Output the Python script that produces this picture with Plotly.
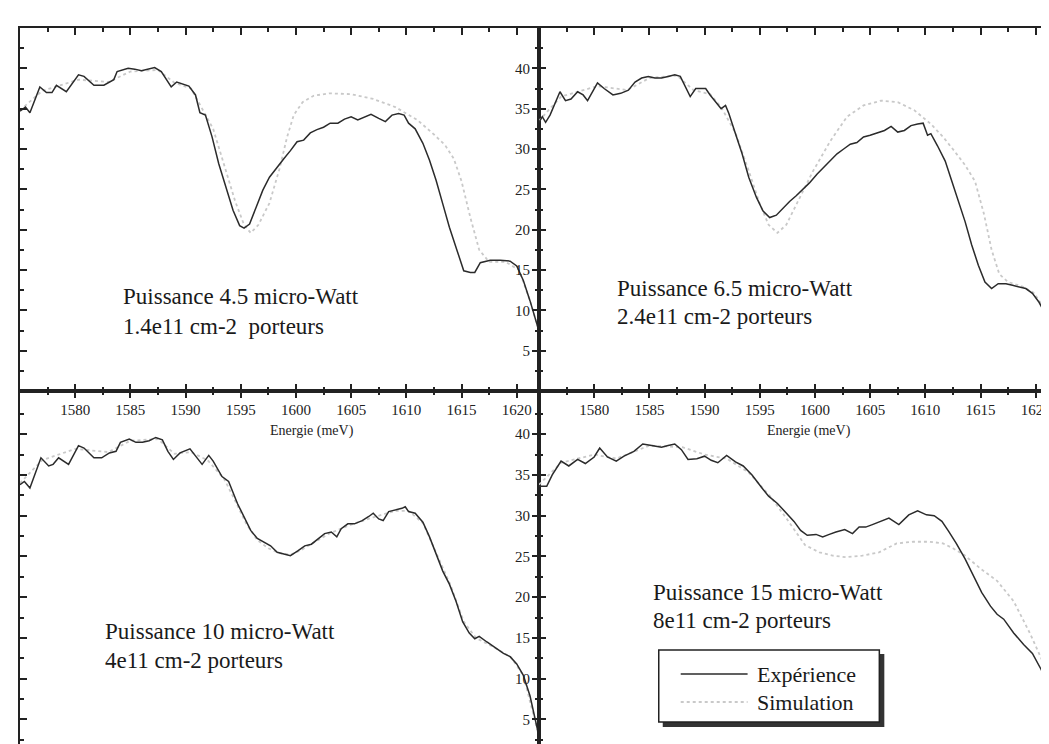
import plotly.graph_objects as go

W, H = 1049, 744

# ---------------- data (Energie in meV, intensity in a.u.) ----------------
tl_exp_x = [1575.0, 1575.5, 1575.9, 1576.8, 1577.4, 1577.9, 1578.3, 1579.2, 1580.3, 1580.8, 1581.7, 1582.6,
            1583.5, 1583.8, 1584.8, 1585.4, 1586.0, 1586.6, 1587.2, 1587.8, 1588.7, 1589.2, 1590.3, 1590.9,
            1591.3, 1591.8, 1592.4, 1593.0, 1593.7, 1594.3, 1594.9, 1595.3, 1595.8, 1596.4, 1597.0, 1597.6,
            1598.3, 1598.9, 1599.5, 1600.1, 1600.7, 1601.3, 1601.9, 1602.5, 1603.1, 1603.8, 1604.4, 1605.0,
            1605.6, 1606.2, 1606.8, 1607.5, 1608.1, 1608.7, 1609.3, 1609.8, 1610.2, 1610.8, 1611.5, 1612.1,
            1612.7, 1613.3, 1613.9, 1614.6, 1615.2, 1615.8, 1616.2, 1616.7, 1617.6, 1618.5, 1619.4, 1620.0,
            1620.6, 1621.2, 1622.0]
tl_exp_y = [34.7, 35.2, 34.5, 37.7, 37.0, 37.0, 37.9, 37.1, 39.2, 39.0, 37.9, 37.9,
            38.6, 39.6, 40.0, 39.9, 39.7, 39.9, 40.1, 39.6, 37.7, 38.3, 37.8, 36.7,
            34.5, 34.2, 31.5, 28.2, 25.1, 22.4, 20.5, 20.2, 20.7, 22.8, 24.9, 26.5,
            27.8, 28.8, 29.8, 30.9, 31.1, 32.0, 32.4, 32.7, 33.2, 33.2, 33.7, 34.0,
            33.6, 34.0, 34.3, 33.8, 33.4, 34.2, 34.4, 34.2, 33.2, 32.5, 30.7, 28.6,
            26.1, 23.2, 20.3, 17.4, 14.9, 14.7, 14.7, 15.9, 16.2, 16.2, 16.1, 15.5,
            13.7, 11.2, 7.5]
tl_sim_x = [1575.0, 1577.0, 1580.3, 1583.0, 1585.0, 1587.5, 1589.0, 1590.5, 1591.5, 1592.5, 1593.5, 1594.5,
            1595.3, 1595.9, 1596.6, 1597.6, 1598.5, 1599.2, 1599.8, 1600.6, 1601.6, 1603.0, 1605.0, 1607.0,
            1609.0, 1611.0, 1612.5, 1613.5, 1614.3, 1615.0, 1615.8, 1616.6, 1617.5, 1619.0, 1620.2, 1621.2,
            1622.0]
tl_sim_y = [34.8, 37.2, 38.6, 38.3, 39.6, 39.8, 38.2, 37.5, 35.0, 32.5, 28.0, 23.5,
            20.6, 19.6, 20.6, 23.3, 27.5, 31.5, 34.2, 35.8, 36.6, 36.9, 36.8, 36.2,
            35.2, 33.6, 31.8, 30.5, 28.8, 26.0, 21.5, 17.5, 16.0, 16.0, 15.0, 11.2,
            7.5]

tr_exp_x = [1575.0, 1575.3, 1575.6, 1576.0, 1576.9, 1577.4, 1577.9, 1578.5, 1579.0, 1579.4, 1580.3, 1580.9,
            1581.7, 1582.4, 1583.1, 1583.7, 1584.3, 1584.9, 1585.5, 1586.1, 1586.7, 1587.3, 1587.8, 1588.2,
            1588.7, 1589.2, 1590.1, 1590.5, 1591.1, 1591.5, 1591.9, 1592.2, 1592.8, 1593.4, 1594.0, 1594.7,
            1595.3, 1595.9, 1596.5, 1597.1, 1597.7, 1598.3, 1598.9, 1599.5, 1600.2, 1600.8, 1601.4, 1602.0,
            1602.6, 1603.2, 1603.8, 1604.4, 1605.0, 1605.6, 1606.3, 1606.9, 1607.5, 1608.1, 1608.7, 1609.3,
            1609.8, 1610.2, 1610.5, 1611.1, 1611.8, 1612.4, 1613.0, 1613.6, 1614.2, 1614.8, 1615.4, 1616.0,
            1616.6, 1617.3, 1617.9, 1618.5, 1619.1, 1619.7, 1620.3, 1621.1, 1621.7]
tr_exp_y = [33.3, 34.0, 33.3, 34.2, 37.1, 36.0, 36.2, 37.1, 36.7, 36.0, 38.2, 37.5,
            36.7, 36.9, 37.3, 38.3, 38.8, 39.0, 38.8, 38.8, 39.0, 39.2, 39.0, 37.9,
            36.5, 37.5, 37.5, 36.7, 35.6, 35.0, 35.4, 34.4, 31.9, 29.4, 26.5, 24.0,
            22.3, 21.5, 21.8, 22.7, 23.5, 24.2, 25.0, 25.8, 26.9, 27.7, 28.5, 29.4,
            30.0, 30.6, 30.8, 31.5, 31.7, 32.0, 32.3, 32.8, 32.1, 32.3, 32.9, 33.1,
            33.2, 31.7, 31.9, 30.4, 28.5, 26.0, 23.5, 21.0, 18.1, 15.6, 13.5, 12.7,
            13.3, 13.3, 13.1, 12.9, 12.7, 12.1, 11.0, 9.0, 6.0]
tr_sim_x = [1575.0, 1577.0, 1580.3, 1583.0, 1585.0, 1587.5, 1589.0, 1590.5, 1591.5, 1592.8, 1594.0, 1595.0,
            1595.8, 1596.6, 1597.4, 1598.6, 1599.8, 1601.4, 1602.9, 1604.4, 1606.0, 1607.5, 1609.0, 1610.5,
            1611.6, 1612.6, 1613.6, 1614.5, 1615.3, 1616.0, 1616.7, 1617.5, 1618.7, 1619.8, 1620.8, 1621.7]
tr_sim_y = [33.5, 36.5, 37.8, 37.3, 38.8, 39.1, 37.3, 36.8, 35.2, 32.0, 27.3, 23.2,
            20.6, 19.6, 20.6, 23.8, 27.2, 31.0, 34.0, 35.4, 36.0, 35.8, 34.8, 33.1,
            31.5, 29.8, 28.0, 26.0, 22.0, 17.5, 14.5, 13.5, 13.0, 12.2, 10.2, 6.0]

bl_exp_x = [1575.0, 1575.4, 1575.9, 1576.3, 1576.9, 1577.6, 1578.0, 1578.5, 1579.0, 1579.4, 1580.3, 1580.8,
            1581.7, 1582.4, 1583.1, 1583.7, 1584.1, 1584.9, 1585.5, 1586.1, 1586.7, 1587.3, 1587.9, 1588.4,
            1588.9, 1589.5, 1590.4, 1590.8, 1591.5, 1592.1, 1592.5, 1593.3, 1593.9, 1594.7, 1595.3, 1595.9,
            1596.5, 1597.1, 1597.7, 1598.3, 1598.9, 1599.5, 1600.2, 1600.8, 1601.4, 1602.0, 1602.6, 1603.2,
            1603.7, 1604.1, 1604.7, 1605.3, 1606.0, 1606.6, 1607.0, 1607.5, 1607.9, 1608.4, 1609.0, 1609.6,
            1609.9, 1610.2, 1610.8, 1611.5, 1612.1, 1612.7, 1613.3, 1613.9, 1614.5, 1615.1, 1615.7, 1616.2,
            1616.6, 1617.3, 1618.2, 1618.8, 1619.4, 1620.0, 1620.6, 1621.2, 1622.0]
bl_exp_y = [33.8, 34.2, 33.4, 34.8, 37.1, 36.1, 36.3, 37.1, 36.7, 36.3, 38.6, 38.3,
            37.1, 37.1, 37.7, 37.9, 39.0, 39.4, 39.0, 39.0, 39.2, 39.6, 39.3, 37.9,
            36.9, 37.7, 38.2, 37.5, 36.3, 37.4, 36.7, 34.8, 34.2, 31.5, 29.9, 28.2,
            27.2, 26.7, 26.3, 25.5, 25.3, 25.1, 25.7, 26.3, 26.5, 27.2, 27.8, 28.0,
            27.4, 28.4, 29.0, 29.0, 29.4, 29.9, 30.3, 29.6, 29.4, 30.5, 30.7, 30.9,
            31.1, 30.5, 30.3, 29.2, 27.4, 25.3, 23.2, 21.6, 19.5, 17.0, 15.6, 14.9,
            15.2, 14.5, 13.7, 13.1, 12.7, 11.8, 10.4, 7.9, 3.0]
bl_sim_x = [1575.0, 1577.0, 1580.0, 1583.0, 1585.0, 1587.5, 1589.0, 1590.5, 1592.0, 1593.5, 1594.5, 1595.5,
            1596.5, 1597.5, 1598.5, 1599.5, 1600.5, 1601.5, 1603.0, 1605.0, 1607.0, 1609.0, 1610.2, 1611.5,
            1612.7, 1614.0, 1615.2, 1616.3, 1618.0, 1619.5, 1620.6, 1622.0]
bl_sim_y = [34.0, 36.8, 38.2, 37.8, 39.2, 39.4, 37.6, 37.8, 36.8, 34.5, 31.8, 29.0,
            27.0, 26.0, 25.4, 25.2, 25.8, 26.6, 27.8, 28.9, 29.8, 30.6, 30.6, 29.1,
            25.5, 21.5, 17.0, 15.0, 13.8, 12.6, 10.4, 3.0]

br_exp_x = [1575.0, 1575.7, 1576.2, 1577.0, 1577.7, 1578.5, 1579.2, 1580.0, 1580.5, 1581.2, 1582.0, 1582.7,
            1583.6, 1584.4, 1585.2, 1586.1, 1586.7, 1587.3, 1587.9, 1588.5, 1589.3, 1590.0, 1590.6, 1591.2,
            1592.0, 1592.8, 1593.5, 1594.3, 1595.2, 1595.8, 1596.6, 1597.3, 1598.1, 1598.7, 1599.3, 1600.1,
            1600.7, 1601.3, 1601.9, 1602.7, 1603.4, 1604.0, 1604.6, 1605.2, 1606.0, 1606.7, 1607.6, 1608.5,
            1609.3, 1610.1, 1610.8, 1611.5, 1612.1, 1612.8, 1613.6, 1614.4, 1615.1, 1615.9, 1616.5, 1617.1,
            1618.0, 1618.9, 1619.7, 1620.5, 1621.2, 1621.7]
br_exp_y = [33.6, 33.6, 35.0, 36.7, 36.1, 36.9, 36.4, 37.2, 38.3, 37.2, 36.7, 37.3,
            37.9, 38.8, 38.6, 38.4, 38.6, 38.8, 38.1, 36.9, 37.0, 37.3, 36.8, 36.5,
            37.4, 36.6, 36.1, 35.0, 33.4, 32.4, 31.5, 30.5, 29.3, 28.2, 27.6, 27.7,
            27.4, 27.7, 28.0, 28.3, 27.8, 28.6, 28.6, 28.9, 29.3, 29.7, 28.9, 30.1,
            30.6, 30.1, 30.0, 29.3, 28.1, 26.6, 24.7, 22.6, 20.6, 18.9, 17.9, 17.3,
            15.6, 14.2, 13.1, 11.1, 9.0, 6.5]
br_sim_x = [1575.0, 1577.0, 1580.0, 1582.0, 1585.0, 1588.0, 1590.0, 1592.0, 1594.0, 1596.0, 1597.5, 1599.1,
            1600.4, 1601.6, 1602.8, 1604.3, 1605.8, 1607.4, 1608.9, 1610.4, 1611.6, 1612.5, 1613.5, 1615.0,
            1616.5, 1618.0, 1619.5, 1620.5, 1621.7]
br_sim_y = [33.8, 36.5, 37.5, 37.0, 38.6, 38.4, 37.5, 37.0, 35.3, 32.3, 29.5, 26.4,
            25.5, 25.1, 24.9, 25.1, 25.5, 26.6, 26.8, 26.8, 26.6, 26.0, 25.2, 23.5,
            22.0, 19.5, 15.5, 12.5, 8.5]

energy_ticks = [1580, 1585, 1590, 1595, 1600, 1605, 1610, 1615, 1620]
intensity_ticks = [5, 10, 15, 20, 25, 30, 35, 40]
panel_notes = [
    ("Puissance 4.5 micro-Watt", "1.4e11 cm-2\u00a0 porteurs"),
    ("Puissance 6.5 micro-Watt", "2.4e11 cm-2 porteurs"),
    ("Puissance 10 micro-Watt", "4e11 cm-2 porteurs"),
    ("Puissance 15 micro-Watt", "8e11 cm-2 porteurs"),
]
legend_labels = ["Expérience", "Simulation"]

# ---------------- layout geometry (pixels) ----------------
X_L, X_M, Y_T, Y_M = 12, 532, 20, 383
PX_PER_MEV = 11.06


def px(x):
    return x / W


def py(y):
    return 1 - y / H


SERIF = "Liberation Serif, Times New Roman, Tinos, DejaVu Serif, serif"
INK = "#222222"
EXP_COLOR = "#2b2b2b"
SIM_COLOR = "#c9c9c9"

fig = go.Figure()

panels = [
    ("x", "y", tl_exp_x, tl_exp_y, tl_sim_x, tl_sim_y),
    ("x2", "y2", tr_exp_x, tr_exp_y, tr_sim_x, tr_sim_y),
    ("x3", "y3", bl_exp_x, bl_exp_y, bl_sim_x, bl_sim_y),
    ("x4", "y4", br_exp_x, br_exp_y, br_sim_x, br_sim_y),
]
for xa, ya, ex, ey, sx, sy in panels:
    fig.add_trace(go.Scatter(x=sx, y=sy, xaxis=xa, yaxis=ya, mode="lines",
                             line=dict(color=SIM_COLOR, width=1.8, dash="dot"),
                             name=legend_labels[1], showlegend=False))
    fig.add_trace(go.Scatter(x=ex, y=ey, xaxis=xa, yaxis=ya, mode="lines",
                             line=dict(color=EXP_COLOR, width=1.5),
                             name=legend_labels[0], showlegend=False))

tickfont = dict(family=SERIF, size=15, color=INK)


def xaxis(domain, rng, labels, anchor):
    return dict(domain=domain, range=rng, anchor=anchor, showgrid=False, zeroline=False,
                showline=True, linecolor=INK, linewidth=2, mirror="ticks",
                ticks="inside", ticklen=7, tickwidth=1.5, tickcolor=INK,
                tickmode="array", tickvals=energy_ticks, showticklabels=labels,
                tickfont=tickfont, ticklabelstandoff=4, ticklabeloverflow="allow",
                minor=dict(ticks="inside", ticklen=4, tickwidth=1.5, tickcolor=INK,
                           tickmode="linear", tick0=1577.5, dtick=5))


def yaxis(domain, rng, labels, anchor):
    return dict(domain=domain, range=rng, anchor=anchor, showgrid=False, zeroline=False,
                showline=True, linecolor=INK, linewidth=2, mirror="ticks",
                ticks="inside", ticklen=7, tickwidth=1.5, tickcolor=INK,
                tickmode="array", tickvals=intensity_ticks, showticklabels=labels,
                tickfont=tickfont, ticklabelstandoff=4,
                minor=dict(ticks="inside", ticklen=4, tickwidth=1.5, tickcolor=INK,
                           tickmode="linear", tick0=2.5, dtick=5))


xl_dom = [px(X_L), px(X_M)]
xr_dom = [px(X_M), 1.0]
yt_dom = [py(Y_M), py(Y_T)]
yb_dom = [0.0, py(Y_M)]
x_left_rng = [1575, 1575 + (X_M - X_L) / PX_PER_MEV]
x_right_rng = [1575, 1575 + (W - X_M) / PX_PER_MEV]
y_top_rng = [0, 45]
y_bot_rng = [1.0, 45.3]

fig.update_layout(
    width=W, height=H, margin=dict(l=0, r=0, t=0, b=0),
    paper_bgcolor="white", plot_bgcolor="white", showlegend=False,
    font=dict(family=SERIF, color=INK),
    xaxis=xaxis(xl_dom, x_left_rng, True, "y"),
    yaxis=yaxis(yt_dom, y_top_rng, False, "x"),
    xaxis2=xaxis(xr_dom, x_right_rng, True, "y2"),
    yaxis2=yaxis(yt_dom, y_top_rng, True, "x2"),
    xaxis3=xaxis(xl_dom, x_left_rng, False, "y3"),
    yaxis3=yaxis(yb_dom, y_bot_rng, False, "x3"),
    xaxis4=xaxis(xr_dom, x_right_rng, False, "y4"),
    yaxis4=yaxis(yb_dom, y_bot_rng, True, "x4"),
)

ann = []
# axis titles
for cx in (305, 803):
    ann.append(dict(x=px(cx), y=py(423), xref="paper", yref="paper", text="Energie (meV)",
                    showarrow=False, xanchor="center", yanchor="middle",
                    font=dict(family=SERIF, size=14, color=INK)))

note_pos = [(113, 288, 318), (608, 280, 308), (95, 623, 652), (644, 584, 612)]
for (l1, l2), (lx, y1, y2) in zip(panel_notes, note_pos):
    for t, yy in ((l1, y1), (l2, y2)):
        ann.append(dict(x=px(lx), y=py(yy), xref="paper", yref="paper", text=t,
                        showarrow=False, xanchor="left", yanchor="middle",
                        font=dict(family=SERIF, size=23, color="#1a1a1a")))

# legend box
shapes = [
    dict(type="rect", xref="paper", yref="paper", x0=px(656), x1=px(878), y0=py(719), y1=py(646),
         fillcolor="#333333", line=dict(width=0), layer="above"),
    dict(type="rect", xref="paper", yref="paper", x0=px(652), x1=px(873), y0=py(714), y1=py(642),
         fillcolor="white", line=dict(color=INK, width=1.5), layer="above"),
    dict(type="line", xref="paper", yref="paper", x0=px(674), x1=px(741), y0=py(666), y1=py(666),
         line=dict(color=EXP_COLOR, width=1.5), layer="above"),
    dict(type="line", xref="paper", yref="paper", x0=px(674), x1=px(741), y0=py(694), y1=py(694),
         line=dict(color=SIM_COLOR, width=1.8, dash="dot"), layer="above"),
]
for t, yy in zip(legend_labels, (666, 694)):
    ann.append(dict(x=px(748), y=py(yy), xref="paper", yref="paper", text=t,
                    showarrow=False, xanchor="left", yanchor="middle",
                    font=dict(family=SERIF, size=22, color="#1a1a1a")))

fig.update_layout(annotations=ann, shapes=shapes)
fig.write_html("out.html")
